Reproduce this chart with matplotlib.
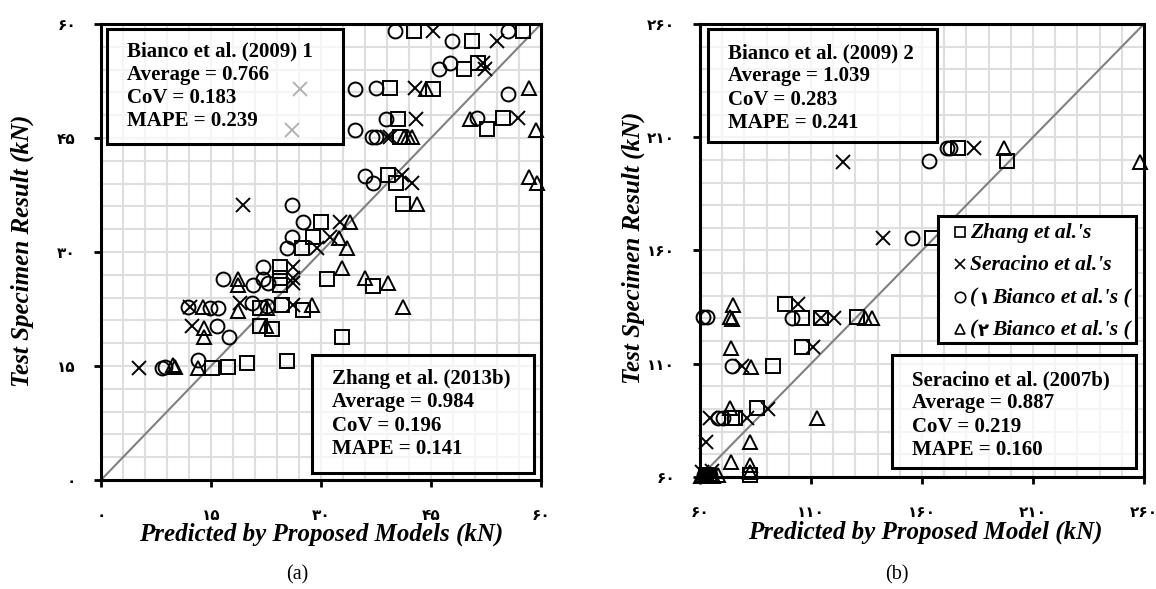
import numpy as np
import matplotlib
matplotlib.use('Agg')
import matplotlib.pyplot as plt
from matplotlib.patches import Rectangle
from matplotlib.ticker import MultipleLocator

plt.rcParams['font.family'] = ['Liberation Serif', 'DejaVu Sans']

# ---- panel (a) data, kN (predicted, test) ----
a_zhang_x = [42.7, 50.6, 57.5, 49.5, 51.4, 39.4, 45.3, 40.5, 52.6, 54.8, 40.8, 39.1, 40.2, 41.2,
             30.0, 28.9, 27.4, 24.4, 30.8, 37.1, 32.9, 24.4, 24.4, 21.7, 24.7, 27.5, 21.7, 23.3,
             15.1, 17.3, 19.9, 25.4]
a_zhang_y = [59.1, 57.8, 59.1, 54.1, 54.9, 51.6, 51.4, 47.5, 46.2, 47.6, 45.1, 40.1, 39.1, 36.3,
             33.9, 32.0, 30.5, 28.0, 26.4, 25.5, 18.8, 26.6, 25.7, 22.6, 23.0, 22.4, 20.3, 19.9,
             14.7, 14.9, 15.4, 15.6]
a_seracino_x = [45.3, 54.0, 52.1, 52.4, 42.8, 43.0, 56.9, 39.0, 39.4, 41.0, 42.4, 19.4, 32.6, 31.2,
                29.5, 26.2, 26.2, 26.2, 12.1, 19.0, 26.2, 12.4, 5.2, 27.1, 26.0]
a_seracino_y = [59.1, 57.7, 54.9, 54.1, 51.6, 47.5, 47.6, 45.1, 45.1, 40.1, 39.1, 36.2, 33.9, 32.0,
                30.5, 28.0, 26.6, 25.9, 22.8, 23.3, 23.0, 20.3, 14.7, 51.4, 46.1]
a_bianco1_x = [40.1, 47.9, 55.5, 46.1, 47.6, 34.6, 37.5, 55.5, 38.9, 51.3, 34.6, 37.0, 37.5, 36.0,
               37.1, 26.0, 27.5, 26.0, 25.4, 22.1, 16.6, 20.7, 22.1, 22.8, 11.9, 14.9, 16.0, 20.6,
               22.6, 15.8, 17.5, 8.3, 8.7, 13.2]
a_bianco1_y = [59.1, 57.8, 59.1, 54.1, 54.9, 51.4, 51.6, 50.8, 47.5, 47.6, 46.1, 45.1, 45.1, 40.0,
               39.1, 36.2, 33.9, 32.0, 30.5, 28.0, 26.4, 25.7, 26.4, 25.9, 22.8, 22.6, 22.6, 23.3,
               22.9, 20.3, 18.8, 14.7, 14.9, 15.8]
a_bianco2_x = [44.3, 58.4, 50.3, 59.3, 41.3, 41.9, 42.4, 58.4, 59.5, 43.1, 34.0, 32.5, 33.5, 32.9,
               36.0, 39.1, 41.2, 18.7, 18.7, 13.9, 18.7, 22.6, 28.8, 14.0, 14.0, 22.5, 9.8, 10.1, 13.2]
a_bianco2_y = [51.4, 51.6, 47.5, 46.1, 45.1, 45.1, 45.1, 39.9, 39.1, 36.3, 33.9, 31.8, 30.5, 27.9,
               26.6, 25.9, 22.8, 26.4, 25.7, 22.8, 22.2, 22.6, 23.0, 20.0, 18.8, 20.3, 15.1, 14.9, 14.7]

# ---- panel (b) data, kN ----
b_zhang_x = [98.3, 105.9, 114.5, 130.7, 105.9, 92.9, 74.4, 75.8, 85.7, 176.2, 198.3, 164.5,
             62.5, 64.0, 82.5]
b_zhang_y = [136.4, 130.2, 130.2, 130.6, 117.4, 109.0, 86.0, 86.0, 90.5, 205.3, 199.5, 165.5,
             60.8, 60.5, 61.0]
b_seracino_x = [104.1, 114.5, 120.4, 110.9, 78.9, 64.5, 81.2, 90.6, 62.8, 183.4, 124.4, 142.4,
                61.0, 63.0, 65.5]
b_seracino_y = [136.4, 130.2, 130.2, 117.4, 109.0, 86.0, 86.0, 90.0, 75.5, 205.3, 199.1, 165.5,
                62.0, 61.0, 62.5]
b_bianco1_x = [61.4, 63.2, 101.4, 74.4, 68.1, 70.4, 163.2, 171.3, 172.6, 155.5, 62.0, 64.5]
b_bianco1_y = [130.6, 130.6, 130.2, 109.0, 86.0, 86.0, 199.5, 205.3, 205.3, 165.5, 60.8, 61.0]
b_bianco2_x = [74.9, 73.5, 74.4, 134.3, 137.5, 74.0, 83.0, 73.5, 112.7, 82.5, 74.0, 82.5, 82.5,
               196.9, 258.2, 60.5, 61.5, 63.0, 64.5, 66.0, 68.0]
b_bianco2_y = [135.9, 130.6, 129.8, 130.2, 130.2, 117.0, 108.6, 90.5, 86.0, 75.5, 66.6, 65.3, 62.2,
               205.3, 199.1, 60.5, 61.0, 60.5, 61.5, 60.5, 61.0]

stats_a_top = ["Bianco et al. (2009) 1", "Average = 0.766", "CoV = 0.183", "MAPE = 0.239"]
stats_a_bot = ["Zhang et al. (2013b)", "Average = 0.984", "CoV = 0.196", "MAPE = 0.141"]
stats_b_top = ["Bianco et al. (2009) 2", "Average = 1.039", "CoV = 0.283", "MAPE = 0.241"]
stats_b_bot = ["Seracino et al. (2007b)", "Average = 0.887", "CoV = 0.219", "MAPE = 0.160"]
legend_markers = ['s', 'x', 'o', '^']
legend_labels = ["Zhang et al.'s", "Seracino et al.'s", "Bianco et al.'s (", "Bianco et al.'s ("]
legend_digits = [None, None, "\u06f1", "\u06f2"]


def fa(n):
    return str(n).translate(str.maketrans('0123456789', '۰۱۲۳۴۵۶۷۸۹'))


def style_axes(ax, lo, hi, major, minor, ypad):
    ax.set_xlim(lo, hi)
    ax.set_ylim(lo, hi)
    ax.xaxis.set_minor_locator(MultipleLocator(minor))
    ax.yaxis.set_minor_locator(MultipleLocator(minor))
    ticks = np.arange(lo, hi + 1, major)
    ax.set_xticks(ticks)
    ax.set_yticks(ticks)
    ax.set_xticklabels([fa(t) for t in ticks], fontfamily='DejaVu Sans', fontweight='bold', fontsize=11)
    ax.set_yticklabels([fa(t) for t in ticks], fontfamily='DejaVu Sans', fontweight='bold', fontsize=11)
    ax.grid(which='both', color='#dedede', lw=1.5)
    ax.set_axisbelow(True)
    for s in ax.spines.values():
        s.set_linewidth(2.2)
    ax.tick_params(which='major', direction='out', length=5, width=2)
    ax.tick_params(axis='x', which='major', pad=15)
    ax.tick_params(axis='y', which='major', pad=ypad)
    ax.tick_params(which='minor', length=0)
    ax.plot([lo, hi], [lo, hi], color='#808080', lw=1.5, zorder=2)


def scatter_all(ax, series):
    for xs, ys, m in series:
        ax.plot(xs, ys, ls='none', marker=m, ms=10, mfc='none', mec='black', mew=1.4,
                clip_on=False, zorder=3)


def stat_box(ax, x0, y0, x1, y1, tx, ty, lines):
    ax.add_patch(Rectangle((x0, y0), x1 - x0, y1 - y0, transform=ax.transAxes,
                           fc=(1, 1, 1, 0.7), ec='black', lw=2.2, zorder=5, clip_on=False))
    ax.text(tx, ty, '\n'.join(lines), transform=ax.transAxes, va='top', ha='left',
            fontsize=15, fontweight='bold', family='Liberation Serif', linespacing=1.22, zorder=6)


fig = plt.figure(figsize=(11.56, 5.89), dpi=100)
ax1 = fig.add_axes([0.0874, 0.1851, 0.3806, 0.7742])
ax2 = fig.add_axes([0.6055, 0.1902, 0.3841, 0.7691])

style_axes(ax1, 0, 60, 15, 3, 13)
style_axes(ax2, 60, 260, 50, 10, 13)

scatter_all(ax1, [(a_zhang_x, a_zhang_y, 's'), (a_seracino_x, a_seracino_y, 'x'),
                  (a_bianco1_x, a_bianco1_y, 'o'), (a_bianco2_x, a_bianco2_y, '^')])
scatter_all(ax2, [(b_zhang_x, b_zhang_y, 's'), (b_seracino_x, b_seracino_y, 'x'),
                  (b_bianco1_x, b_bianco1_y, 'o'), (b_bianco2_x, b_bianco2_y, '^')])

stat_box(ax1, 0.0136, 0.737, 0.55, 0.989, 0.059, 0.962, stats_a_top)
stat_box(ax1, 0.4795, 0.0154, 0.984, 0.274, 0.525, 0.243, stats_a_bot)
stat_box(ax2, 0.018, 0.7395, 0.534, 0.989, 0.063, 0.958, stats_b_top)
stat_box(ax2, 0.432, 0.0199, 0.982, 0.269, 0.477, 0.236, stats_b_bot)

# hand-built legend in panel (b): frame, markers, labels
ax2.add_patch(Rectangle((0.536, 0.296), 0.446, 0.28, transform=ax2.transAxes,
                        fc='white', ec='black', lw=2.2, zorder=7, clip_on=False))
lab_font = dict(fontsize=15.5, fontweight='bold', fontstyle='italic', family='Liberation Serif')
row_y = 0.541 - 0.0715 * np.arange(4)
for yy, m, l, d in zip(row_y, legend_markers, legend_labels, legend_digits):
    ax2.plot([0.5855], [yy], transform=ax2.transAxes, ls='none', marker=m, ms=7.5,
             mfc='none', mec='black', mew=1.2, clip_on=False, zorder=8)
    if d is None:
        ax2.text(0.6075, yy - 0.013, l, transform=ax2.transAxes, ha='left', va='baseline',
                 zorder=8, **lab_font)
    else:
        t1 = ax2.text(0.6075, yy - 0.013, "(", transform=ax2.transAxes, ha='left', va='baseline',
                      zorder=8, **lab_font)
        t2 = ax2.annotate(d, xy=(1, 0), xycoords=t1, xytext=(1, 0), textcoords='offset points',
                          ha='left', va='bottom', fontsize=13, fontweight='bold',
                          family='DejaVu Sans', zorder=8, annotation_clip=False)
        ax2.annotate(l, xy=(1, 0), xycoords=t2, xytext=(2, 0), textcoords='offset points',
                     ha='left', va='bottom', zorder=8, annotation_clip=False, **lab_font)

W, H = 1156, 589
lab = dict(fontsize=18, fontweight='bold', fontstyle='italic', family='Liberation Serif',
           ha='center', va='center')
fig.text(321 / W, 1 - 534 / H, "Predicted by Proposed Models (kN)", **lab)
fig.text(22 / W, 1 - 251 / H, "Test Specimen Result (kN)", rotation=90, **lab)
fig.text(925 / W, 1 - 532 / H, "Predicted by Proposed Model (kN)", **lab)
fig.text(633 / W, 1 - 248 / H, "Test Specimen Result (kN)", rotation=90, **lab)
fig.text(297 / W, 1 - 575 / H, "(a)", fontsize=14.5, family='Liberation Serif', ha='center', va='center')
fig.text(897 / W, 1 - 575 / H, "(b)", fontsize=14.5, family='Liberation Serif', ha='center', va='center')

fig.savefig('out.png', dpi=100)
